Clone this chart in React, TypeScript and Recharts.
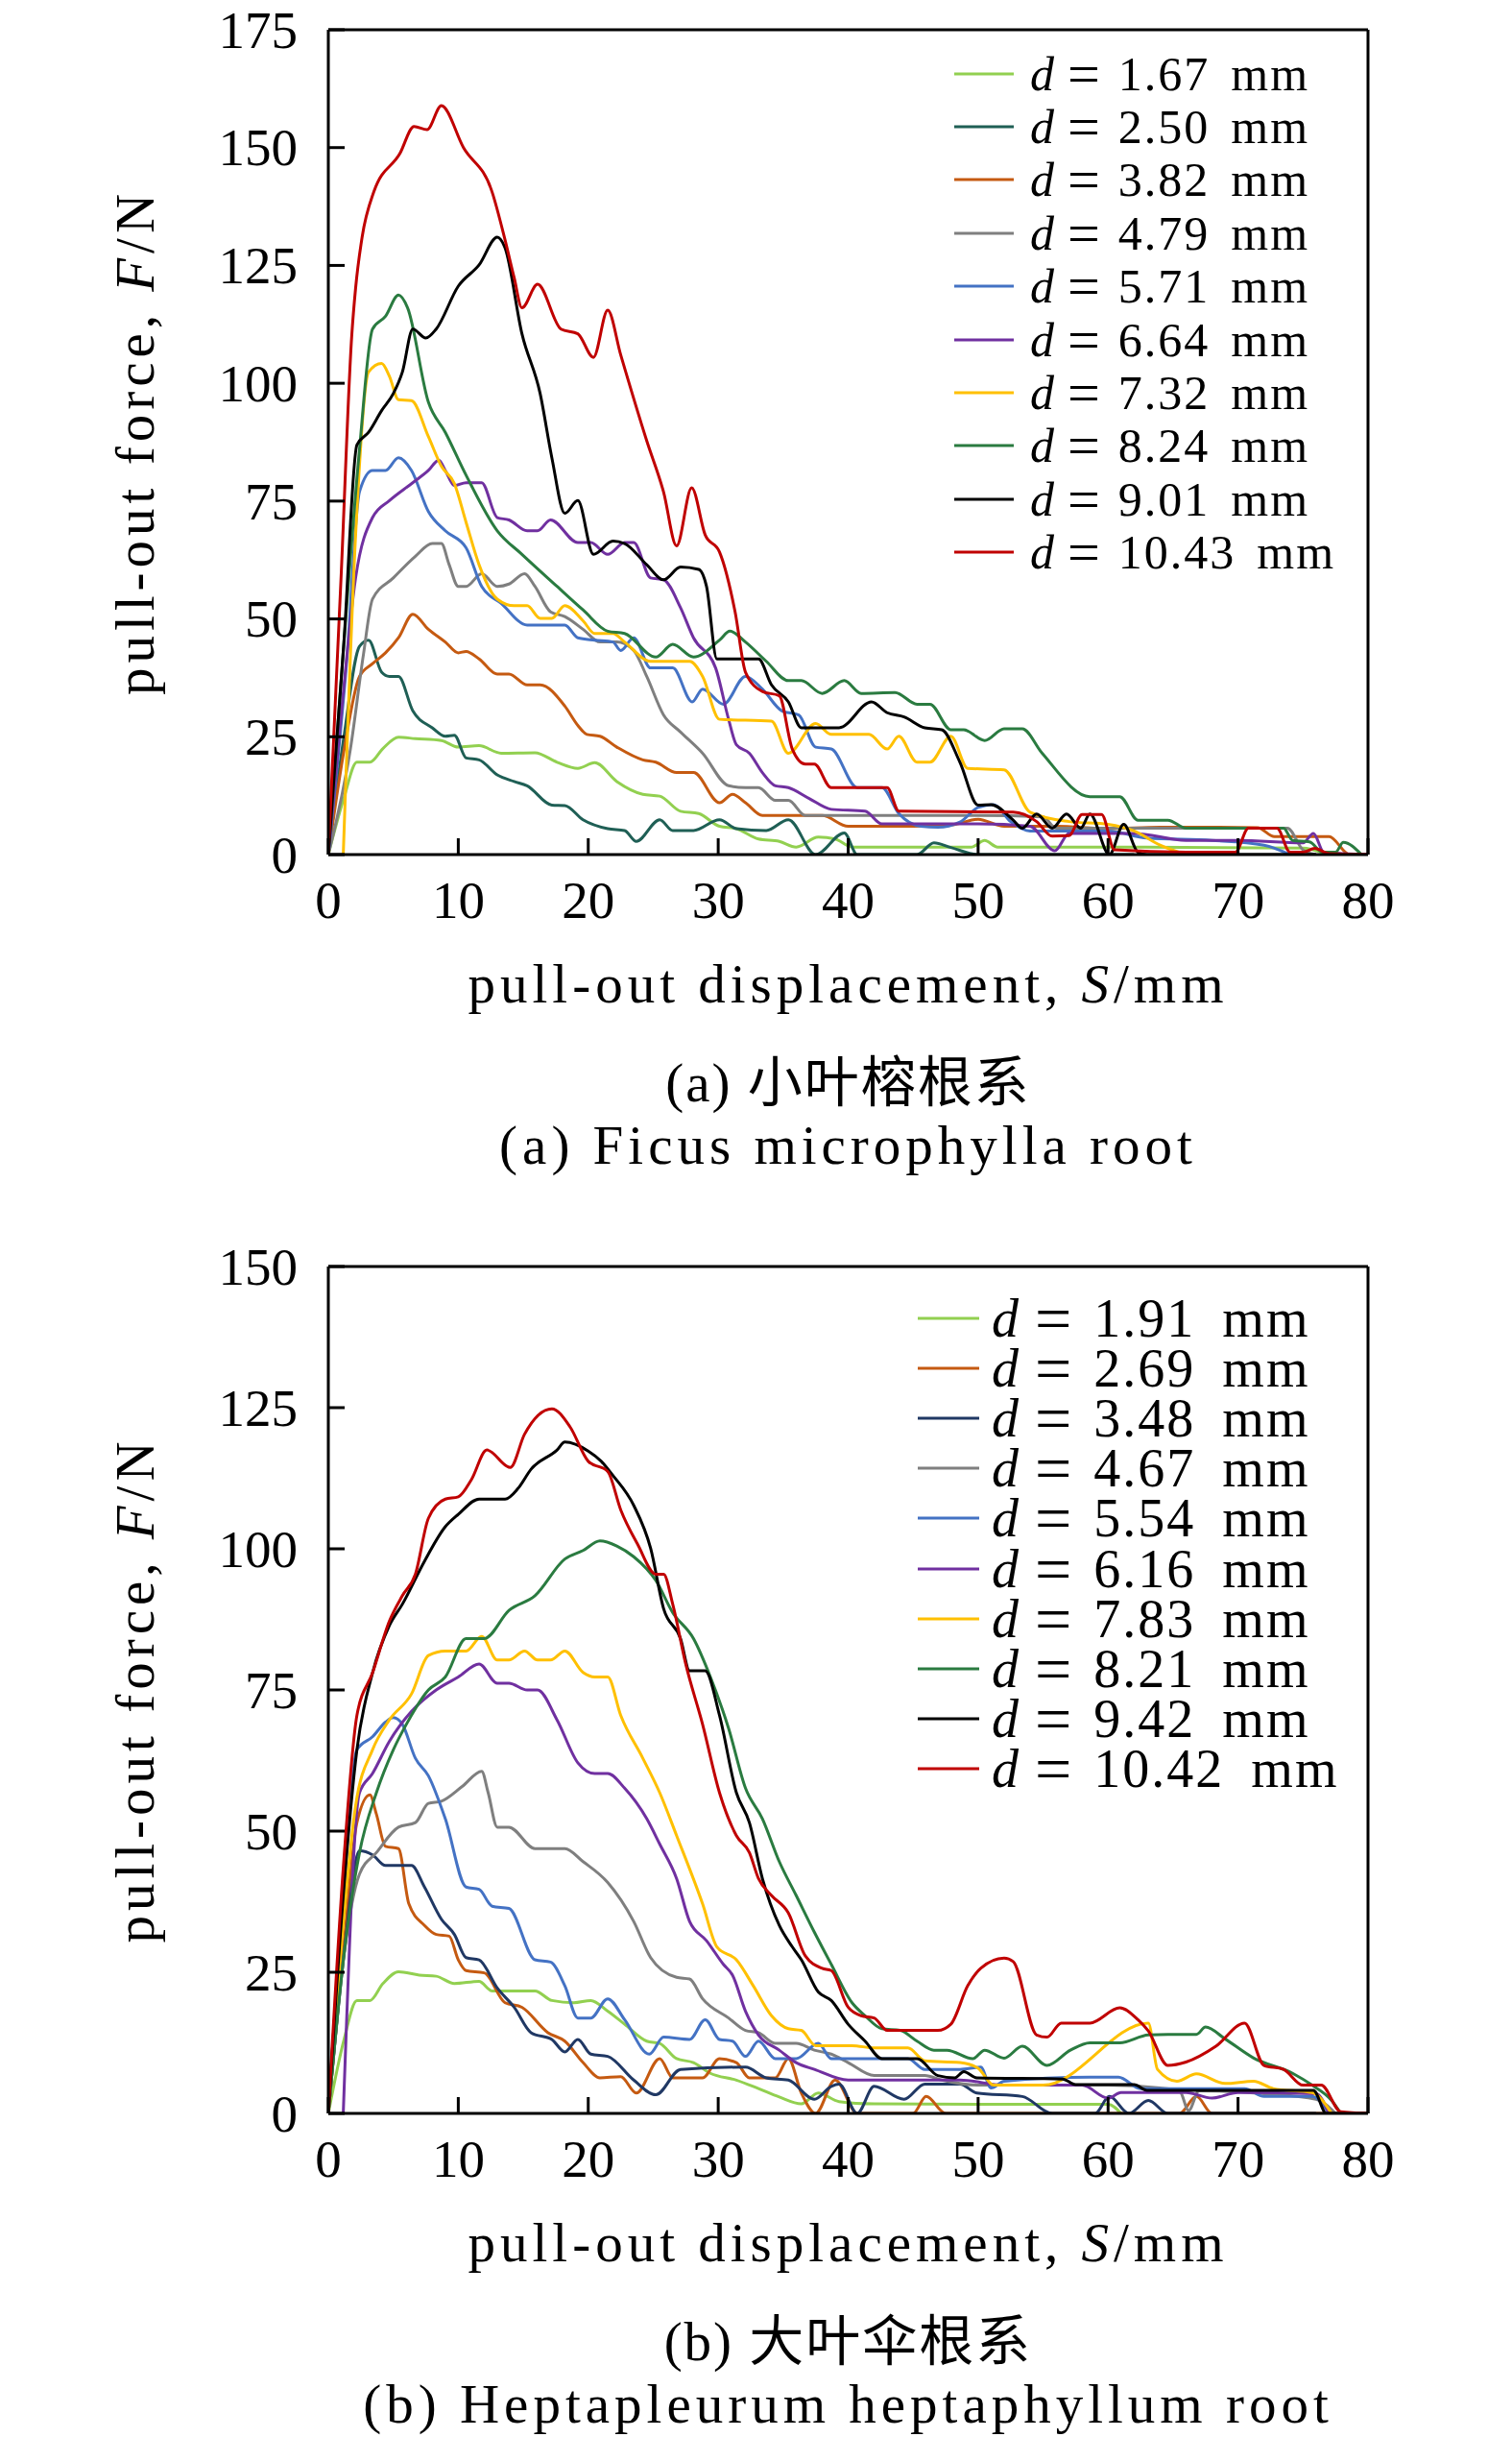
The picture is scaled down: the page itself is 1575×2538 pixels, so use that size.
import React from "react";
import { LineChart, Line, XAxis, YAxis, ReferenceLine, Legend } from "recharts";

type Pt = [number, number];

const FONT = "'Liberation Serif', 'Noto Sans CJK SC', serif";

// x ticks shared by both panels
const xTicks = [0, 10, 20, 30, 40, 50, 60, 70, 80];
const yTicksA = [0, 25, 50, 75, 100, 125, 150, 175];
const yTicksB = [0, 25, 50, 75, 100, 125, 150];

// ---------- (a) Ficus microphylla ----------
const namesA = ["1.67", "2.50", "3.82", "4.79", "5.71", "6.64", "7.32", "8.24", "9.01", "10.43"];
const colorsA = ["#92D050", "#1F5F55", "#C55A11", "#7F7F7F", "#4472C4", "#7030A0", "#FFC000", "#2A7B40", "#000000", "#C00000"];

const a167: Pt[] = [[0,0],[1.2,12],[2.2,19.6],[3.2,19.6],[4.2,22.5],[5.4,24.9],[6.7,24.6],[8.7,24.2],[10,22.8],[11.6,23.1],[13.3,21.5],[15.9,21.6],[17.6,19.6],[19.2,18.3],[20.5,19.5],[22.2,15.5],[24.2,12.8],[25.5,12.4],[27.1,9.2],[28.5,8.7],[30.1,6],[31.4,5.5],[33.1,3.3],[34.7,2.8],[36,1.6],[37.7,3.7],[39,3.3],[40.3,1.6],[49.5,1.6],[50.5,3],[51.5,1.6],[60,1.6],[75,1.4],[76.5,0.4]];
const a250: Pt[] = [[0,0],[1.2,25],[2.4,44.2],[3.1,45.5],[4.1,38.7],[4.7,37.8],[5.4,37.8],[6.5,30.5],[8,26.9],[9,25.1],[9.7,25.3],[10.6,20.5],[11.6,20.1],[13,16.9],[14.3,15.5],[15.3,14.6],[17.2,10.5],[18.2,10.4],[19.6,7.4],[21.5,5.5],[22.8,5.1],[23.7,2.8],[25.5,7.4],[26.5,5.1],[28.1,5.1],[30.1,7.4],[31.4,5.5],[33.7,5.1],[35.4,7.4],[37.5,0],[39.7,4.6],[40.7,0],[45.3,0],[46.6,2.5],[47.9,1.5],[50,0],[62,0]];
const a382: Pt[] = [[0,0],[1.2,22],[2.4,37.8],[3.4,40.5],[4.4,42.8],[5.4,46],[6.5,51],[7.7,47.8],[9,45.1],[10,42.8],[10.6,43.1],[11.6,41.5],[13,38.3],[13.9,38.3],[15.3,36],[16.3,36],[18.2,31.5],[19.2,27.4],[19.9,25.5],[20.9,25.1],[22.2,22.8],[24.2,20.1],[25.2,19.6],[26.8,17.4],[28.1,17.4],[30.1,11],[31.1,12.8],[32.1,11],[33.4,8.3],[35.4,8.3],[38,8.3],[40,6],[45,6],[48,6.3],[50,7.5],[52,6],[56,6],[60,5.5],[64,5.8],[68,5.8],[71.5,5.7],[72.8,3.8],[77,3.8],[78.6,0],[80,0]];
const a479: Pt[] = [[0,0],[1.7,22.4],[2.7,42.4],[3.4,54.2],[5,58.7],[6.7,63.3],[8,66],[8.7,66],[9.3,61.5],[10,56.9],[10.6,56.9],[11.8,59.6],[13,56.9],[13.9,57.4],[15.1,59.6],[15.9,56.9],[17.1,51.5],[18.2,50.5],[19.6,47.8],[20.9,45.1],[22.2,45.1],[23.5,43.3],[24.5,37.8],[25.8,29.6],[27.1,26],[28.8,21.5],[30.8,14.6],[32.1,14.2],[33.1,14.2],[34.4,11.5],[35.4,11.5],[36.7,8.3],[50,8.3],[55,8],[56,5.6],[73.8,5.6],[75,1],[76,0]];
const a571: Pt[] = [[0,0],[1.4,40.5],[2.4,77],[3.4,81.5],[4.4,81.5],[5.4,84.2],[6.4,81.5],[7.7,72.8],[9,68.7],[10.6,65.1],[11.8,56.9],[13.3,53.3],[15.3,48.7],[18.2,48.7],[19.2,46],[20.5,45.5],[21.9,45.1],[22.5,43.3],[23.5,46],[24.8,39.6],[26.5,39.6],[28,32.4],[28.8,35.1],[30.4,31.9],[32.1,37.8],[33.4,35.1],[34.9,30.5],[36.2,29.6],[37.5,22.8],[38.7,22.4],[40.7,14.2],[42.6,14.2],[43.9,8.7],[45.6,6],[46.9,5.8],[48.6,6.9],[50,10],[51.2,10.6],[52.5,7],[54,5],[60,5],[63,3.5],[68,3],[72,2],[74,0]];
const a664: Pt[] = [[0,0],[1,30],[2.1,58.7],[3.4,71.5],[4.7,75.1],[6.4,78.7],[7.7,81.5],[8.5,83.7],[9,81.5],[9.7,78.3],[10.6,78.9],[11.8,78.9],[13,71.5],[13.9,71],[15.3,68.7],[16.1,68.7],[17.1,71],[19.2,66.2],[20.2,66.2],[21.5,63.7],[22.8,66.2],[23.5,66.2],[24.8,58.7],[25.8,58.3],[27.1,52.4],[28.1,46],[29.8,39.6],[30.8,28.7],[31.4,23.3],[32.4,21.5],[33.4,17.4],[34.4,14.6],[35.4,14.2],[37,11.9],[38.7,9.6],[41.3,9.2],[42.6,6.5],[50,6.5],[54,6],[55.9,0.8],[57,4.5],[62,4.5],[66,3],[70,3],[75,2.5],[75.8,4.5],[76.6,0.5],[80,0]];
const a732: Pt[] = [[1.15,0],[2.1,67.8],[3.1,102.4],[4.1,104.2],[4.7,101.5],[5.4,96.5],[6.4,96.3],[7.7,88.7],[8.7,82.4],[9.7,78.7],[10.6,70.5],[11.6,61.5],[13,54.2],[14.3,52.8],[15.3,52.8],[16.3,50.1],[17.2,50.1],[18.2,52.8],[19.6,49.6],[20.5,46.9],[21.9,46.9],[22.8,45.1],[24.8,41],[27.8,41],[28.8,37.8],[30.1,28.7],[34.1,28.3],[35.4,21.5],[37.5,27.8],[38.7,25.5],[41.6,25.5],[43,22.4],[43.9,25.1],[45.3,19.6],[46.3,19.6],[47.9,25.1],[49.2,18.3],[52,18],[54,9],[57,7],[60,6.4],[62,5],[64,2],[66,0]];
const a824: Pt[] = [[0,0],[1.2,45],[2.4,86],[3.4,111.5],[4.4,114.2],[5.4,118.7],[6.1,116],[7.7,96],[9,89.6],[10.6,80.5],[13,68.7],[14.9,63.7],[17.6,56.9],[19.6,51.9],[21.5,47.4],[22.8,46.9],[25.2,41.9],[26.5,44.6],[28.1,41.9],[30.1,45.5],[30.9,47.4],[32.1,45.1],[33.7,41],[35.4,36.9],[36.4,36.9],[38,34.2],[39.7,36.9],[41,34.2],[43.6,34.4],[45.3,31.9],[46.3,31.9],[47.9,26.5],[48.9,26.5],[50.5,24.2],[52,26.7],[53.4,26.7],[54.9,21.6],[58.6,12.3],[60.9,12.3],[62.3,7.3],[64.6,7.3],[66,5.6],[73.5,5.6],[74.2,3],[75.5,2.7],[76.5,0.5],[77.5,0.5],[78.1,2.6],[79.5,0]];
const a901: Pt[] = [[0,0],[1.2,45],[2.2,86.9],[3.1,89.6],[4.1,94.2],[5,97.8],[5.7,102.4],[6.5,111.5],[7.5,109.6],[8.3,111.5],[10,120.6],[11.6,125.1],[13,131],[13.6,128.7],[14.9,110.5],[16.3,97.8],[17.2,84.2],[18.2,72.4],[19.2,75.1],[20.4,63.7],[21.9,66.5],[22.8,66],[24.5,61.5],[25.8,58.3],[27.1,61],[28.5,60.5],[29.1,56.9],[29.9,41.5],[33.1,41.5],[34.1,36],[35.4,32.4],[36.4,26.9],[39.3,26.9],[41.8,32.4],[43,30.1],[44.3,29.2],[45.9,26.9],[47.2,26.5],[48.6,19.6],[50,10.5],[51,10.6],[52.7,7.3],[53.4,5.6],[54.5,8.6],[55.7,5.6],[56.8,8.6],[57.9,5.6],[58.6,8.6],[60.1,0],[61.2,6.4],[62.3,0.5],[63,0],[76,0]];
const a1043: Pt[] = [[0,0],[1,60],[1.8,110],[2.1,120.2],[2.6,131],[3.5,140.6],[5.5,148.7],[6.6,154.5],[7.6,153.8],[8.7,158.9],[10.4,150],[12.6,140.6],[13.6,130.4],[14.3,122.4],[14.9,116],[16.1,121],[17.9,111.5],[19.2,110.5],[20.4,105.5],[21.5,115.5],[22.5,106],[24.5,87.8],[25.8,76.9],[26.8,65.5],[27.96,77.8],[29,67.8],[30.1,64.2],[31.3,51.5],[32.1,38.7],[33.4,34.6],[34.7,33.7],[35.7,22.4],[36.7,19.2],[37.4,19.2],[38.7,14.2],[43,14.2],[43.9,9.2],[52.7,9],[54.5,7],[55.7,3.9],[57,4],[58,8.5],[59.5,8.5],[60.5,1],[66,0.5],[69.8,0.5],[70.8,5.6],[73,5.6],[74,0.5],[75,0.5],[75.9,1.3],[77,0.2],[80,0]];
const seriesA = [a167, a250, a382, a479, a571, a664, a732, a824, a901, a1043];

// ---------- (b) Heptapleurum heptaphyllum ----------
const namesB = ["1.91", "2.69", "3.48", "4.67", "5.54", "6.16", "7.83", "8.21", "9.42", "10.42"];
const colorsB = ["#92D050", "#C55A11", "#203864", "#7F7F7F", "#4472C4", "#7030A0", "#FFC000", "#2A7B40", "#000000", "#C00000"];

const b191: Pt[] = [[0,0],[1.2,13],[2.2,20],[3.2,20],[4.2,23],[5.4,25.1],[7,24.5],[8.3,24.3],[9.7,23],[11.6,23.4],[12.6,21.7],[15.9,21.7],[17.2,20],[18.9,19.6],[20.2,20],[21.5,18.1],[22.8,15.8],[24.5,12.8],[25.5,12.4],[26.8,9.7],[28.1,9],[29.4,7.1],[31.4,5.9],[33.1,4.4],[34.7,2.9],[36.4,1.7],[37.7,3.6],[39.3,2.1],[42,1.7],[50,1.6],[60,1.6],[61,0]];
const b269: Pt[] = [[0,0],[1.2,30],[2.2,51.5],[3.2,56.4],[3.7,53],[4.4,47.3],[5.4,46.9],[6.2,37.1],[7.4,33.3],[8.3,31.7],[9.3,31.4],[10,27.2],[10.6,25.3],[12,24.9],[13.6,19.6],[14.9,18.8],[16.9,14.3],[18.2,12.8],[19.6,9],[20.9,6.3],[22.5,6.5],[23.7,3.6],[25.5,9.7],[26.5,6.3],[28.8,6.3],[30.1,9.7],[31.4,9],[32.4,6.3],[34.4,6.3],[35.4,9.7],[36.4,3.6],[37.5,0],[39,5.9],[40.7,0],[45,0],[46,3],[47.5,0],[65.5,0],[66.8,3],[68,0],[80,0]];
const b348: Pt[] = [[0,0],[1.2,28],[2.4,46.5],[3.4,45.8],[4.4,43.9],[6.4,43.9],[7.4,40.1],[8.7,34.4],[9.7,31.7],[10.6,27.6],[11.6,27.2],[13,22.2],[14.3,18.8],[15.6,14.3],[17.2,13.1],[18.2,10.9],[19.2,13.1],[20.2,10.5],[21.5,10.1],[23.5,5.9],[25.2,3.3],[27.1,7.8],[32.1,8.2],[33.7,6.3],[35.4,5.9],[37.4,2.5],[38.7,4.8],[39.3,5.2],[40.7,0],[42,4.8],[44.3,2.5],[45.9,5.2],[48.6,5.2],[49.9,3.6],[53.4,3],[55.7,0],[59,0],[60.1,3],[61.6,0],[63.1,2.3],[64.6,0],[76,0]];
const b467: Pt[] = [[0,0],[1.2,28],[2.4,42.4],[3.7,46.2],[5.4,50.7],[6.7,51.5],[7.7,54.9],[8.7,55.3],[10.3,57.9],[11.8,60.6],[12.3,56.8],[13,50.7],[13.9,50.7],[15.9,46.9],[18.2,46.9],[19.6,44.6],[21.5,40.9],[23.5,34],[24.8,27.6],[26.8,24.1],[27.8,23.8],[28.8,20.3],[30.8,16.9],[32.1,14.7],[33.1,14.3],[34.4,12.4],[36,12.4],[37.4,11.2],[38.7,10.5],[40,9],[42,6.7],[45.9,6.7],[47.2,5.9],[50,5],[60,5],[64,4.5],[65.5,4],[66.2,0.5],[67,4],[72,3.5],[76,2.5],[77.5,0]];
const b554: Pt[] = [[0,0],[1.2,40],[2.2,64.4],[3.4,66.7],[4.4,69.3],[5,70.1],[5.7,68.9],[6.7,62.9],[7.7,59.8],[9,52.2],[10.6,40.1],[11.6,39.7],[12.6,36.7],[13.9,36.3],[15.9,27.2],[17.1,26.8],[18.2,22.6],[19.2,16.9],[20.2,16.9],[21.5,20.3],[22.8,16.6],[24.7,10.5],[25.8,13.5],[27.8,13.1],[29,16.6],[30.1,13.1],[31.1,12.8],[32.1,10.1],[33.1,12.8],[34.4,9.7],[36,9.7],[37.7,12.4],[38.7,9.7],[44.6,9.7],[45.9,7.8],[48.6,7.8],[50.2,8.2],[51,4.5],[52,5.7],[58.6,6.4],[60.8,6.4],[62.5,4.4],[70.5,4.4],[72,3],[75.7,3],[77,0]];
const b616: Pt[] = [[1.15,0],[2.4,56.8],[3.4,60.2],[4.7,65.9],[6.4,71.2],[8.3,75],[10,77.3],[11.6,79.6],[13,76.2],[13.9,76.2],[15.3,75],[16.1,75],[17.6,69.7],[19.2,62.1],[20.5,60.2],[21.5,60.2],[22.8,57.6],[24.5,52.2],[25.5,47.7],[26.8,41.6],[27.8,34],[29.1,30.6],[30.4,26.4],[31.1,24.5],[32.1,18.1],[33.1,13.9],[34.7,11.2],[36,9],[37.4,7.8],[40,5.9],[48.6,5.9],[52,5],[58,5],[60,2.7],[61,3.7],[66,3.7],[68,2.7],[70,3.7],[76,3.5],[77,0]];
const b783: Pt[] = [[0,0],[1.2,35],[2.1,54.5],[3.4,64.4],[4.7,69.7],[6.4,74.3],[7.7,81.1],[9,81.9],[10.6,81.9],[11.8,84.5],[13,80.3],[13.9,80.3],[15.1,81.9],[16.1,80.3],[17.1,80.3],[18.2,81.9],[19.6,78.1],[20.5,77.3],[21.5,77.3],[22.5,70.5],[24.2,62.9],[25.5,56.8],[26.8,49.2],[28.8,37.1],[29.9,29.5],[31.4,27.2],[32.7,22.6],[34.1,17.3],[35.4,15],[36.4,14.7],[37.5,12],[40.3,12],[42,11.6],[44.6,11.6],[45.9,9.3],[48.6,9],[50,8],[51.2,5],[55,5],[63.1,16],[63.8,7.8],[65.3,5.7],[66.8,7],[69,5.3],[71.2,5.7],[72.7,4.4],[75.7,3.7],[77.2,0]];
const b821: Pt[] = [[0,0],[1.2,28],[2.4,46.2],[3.7,56.8],[5,64.4],[6,68.9],[7.7,75],[9,77.3],[10.6,84.1],[12,84.1],[13.9,89.1],[15.9,91.7],[18.2,98.2],[19.6,99.7],[20.9,101.4],[22.2,100.5],[23.5,98.6],[25.2,94.4],[26.5,88.7],[28.1,84.1],[29.4,77.3],[30.8,68.2],[32.1,57.6],[33.4,52.2],[34.7,44.6],[36,38.6],[37.4,32.1],[38.7,26.4],[40.3,19.6],[41.3,17.3],[42.6,15],[44,14.7],[45.3,12.8],[46.6,11.2],[47.6,11.2],[49.6,9.7],[50.5,11.2],[52,9.8],[53.4,11.9],[55.3,8.5],[57.1,11.2],[58.6,12.5],[60.9,12.5],[63.1,13.9],[64.6,14],[66.8,14],[67.5,15.3],[69,13.2],[71.2,9.8],[74.2,7.1],[75.7,5],[77.2,2.3],[77.9,0]];
const b942: Pt[] = [[0,0],[1.2,40],[2.2,64.4],[3.4,78],[4.7,86.4],[5.7,90.2],[7.4,97.8],[9,103.9],[10,106.1],[11.6,108.8],[13.6,108.8],[14.6,110.7],[15.6,114.1],[17.6,117.5],[18.2,118.9],[20,117.3],[21,115.5],[21.9,113],[23.5,107.7],[24.8,100.1],[25.8,89.4],[27.1,84.1],[27.8,78.4],[29,78.4],[30.1,70.5],[31.4,56.8],[32.4,51.5],[33.4,41.6],[34.7,33.3],[35.7,29.5],[36.4,27.2],[37.7,21.5],[38.7,20],[40,15.8],[41.3,12.8],[42.6,9.7],[45.3,9.7],[46.9,6.7],[48.2,6.3],[48.9,7.4],[49.9,6.3],[56.5,6.1],[57.5,5.1],[62,5.1],[63,4.1],[75.8,4.1],[76.8,0],[80,0]];
const b1042: Pt[] = [[0,0],[1.2,45],[2.2,70.5],[3.4,78],[4.7,87.2],[5.7,91.7],[6.7,95.5],[7.7,105.4],[9,108.8],[10,109.2],[11,112.2],[12.2,117.5],[14,114.4],[15.1,120.3],[17.2,124.8],[18.6,121.6],[20,115.5],[21.5,113.7],[22.5,106.9],[23.8,100.8],[25.2,95.5],[25.8,95.5],[26.5,90.2],[27.5,79.6],[28.8,68.9],[30.1,56.8],[31.4,49.2],[32.4,46.2],[33.1,41.6],[34.1,38.6],[35.4,35.5],[36.7,27.9],[38,25.7],[38.7,25.3],[40,18.8],[41,17.3],[42,16.9],[43,14.7],[46.9,14.7],[47.9,15.8],[49.2,22.6],[50.2,25.7],[52,27.5],[52.7,26.9],[54.5,13.9],[55.3,13.5],[56.4,16],[58.6,16],[60.9,18.7],[62.3,16.6],[63.1,14.6],[64.6,8.5],[66,9.1],[68.3,11.9],[70.5,16],[72,8.5],[73.5,7.8],[75,5],[76.4,5],[77.9,0.3],[80,0]];
const seriesB = [b191, b269, b348, b467, b554, b616, b783, b821, b942, b1042];

const toRows = (pts: Pt[]) => pts.map(([s, f]) => ({ s, f }));

const PLOT_L = 342;
const PLOT_R = 1425;
const TICK_LEN = 17;
const Y_GAP = 32;
const X_GAP = 66;

const YTick = (props: any) => {
  const { x, y, payload } = props;
  const axisX = x + Y_GAP;
  return (
    <g>
      <line x1={axisX} x2={axisX + TICK_LEN} y1={y} y2={y} stroke="#000" strokeWidth={3} />
      <text x={x} y={y} dy="0.34em" textAnchor="end" fontFamily={FONT} fontSize={55} fill="#000">
        {payload.value}
      </text>
    </g>
  );
};

const XTick = (props: any) => {
  const { x, y, payload } = props;
  const axisY = y - X_GAP;
  return (
    <g>
      <line x1={x} x2={x} y1={axisY} y2={axisY - TICK_LEN} stroke="#000" strokeWidth={3} />
      <text x={x} y={y} textAnchor="middle" fontFamily={FONT} fontSize={55} fill="#000">
        {payload.value}
      </text>
    </g>
  );
};

interface LegendCfg {
  left: number;
  top: number;
  rowH: number;
  lineW: number;
  gap: number;
  fontSize: number;
  eqSize: number;
  eqL: number;
  eqR: number;
  mmGap: number;
}

interface PanelProps {
  top: number;
  height: number;
  plotTop: number;
  plotBottom: number;
  yMax: number;
  yTicks: number[];
  series: Pt[][];
  names: string[];
  colors: string[];
  legend: LegendCfg;
  cn: string;
  en: string;
}

function Panel({ top, height, plotTop, plotBottom, yMax, yTicks, series, names, colors, legend, cn, en }: PanelProps) {
  const lg = legend;
  const renderLegend = () => (
    <div style={{ fontFamily: FONT, fontSize: lg.fontSize, color: "#000", lineHeight: 1 }}>
      {names.map((n, i) => (
        <div key={n} style={{ display: "flex", alignItems: "center", height: lg.rowH, whiteSpace: "nowrap" }}>
          <svg width={lg.lineW} height={6} style={{ flex: "none" }}>
            <line x1={0} x2={lg.lineW} y1={3} y2={3} stroke={colors[i]} strokeWidth={3} />
          </svg>
          <span style={{ marginLeft: lg.gap, fontStyle: "italic" }}>d</span>
          <span style={{ marginLeft: lg.eqL, marginRight: lg.eqR, fontSize: lg.eqSize }}>=</span>
          <span style={{ letterSpacing: 2 }}>{n}</span>
          <span style={{ marginLeft: lg.mmGap, letterSpacing: 2 }}>mm</span>
        </div>
      ))}
    </div>
  );

  const cy = (plotTop + plotBottom) / 2 - top;
  const axisY = plotBottom - top;
  const textStyle = { fontFamily: FONT, fontSize: 57, letterSpacing: 5, fill: "#000" } as const;
  const midX = (PLOT_L + PLOT_R) / 2;

  return (
    <div style={{ position: "absolute", left: 0, top, width: 1575, height }}>
      <LineChart
        width={1575}
        height={height}
        margin={{ top: plotTop - top, bottom: top + height - plotBottom - 1, left: PLOT_L - 1, right: 1575 - PLOT_R }}
      >
        <XAxis
          type="number"
          dataKey="s"
          domain={[0, 80]}
          ticks={xTicks}
          interval={0}
          height={1}
          tickSize={0}
          tickMargin={X_GAP}
          tick={<XTick />}
          tickLine={false}
          axisLine={{ stroke: "#000", strokeWidth: 3 }}
          allowDataOverflow
        />
        <YAxis
          type="number"
          domain={[0, yMax]}
          ticks={yTicks}
          interval={0}
          width={1}
          tickSize={0}
          tickMargin={Y_GAP}
          tick={<YTick />}
          tickLine={false}
          axisLine={{ stroke: "#000", strokeWidth: 3 }}
          allowDataOverflow
        />
        {series.map((pts, i) => (
          <Line
            key={names[i]}
            data={toRows(pts)}
            dataKey="f"
            name={names[i]}
            type="monotone"
            stroke={colors[i]}
            strokeWidth={3}
            dot={false}
            activeDot={false}
            isAnimationActive={false}
          />
        ))}
        <ReferenceLine y={yMax} stroke="#000" strokeWidth={3} />
        <ReferenceLine x={80} stroke="#000" strokeWidth={3} />
        <Legend
          layout="vertical"
          align="center"
          verticalAlign="middle"
          content={renderLegend}
          wrapperStyle={{ position: "absolute", left: lg.left, top: lg.top, width: 560, height: lg.rowH * 10 }}
        />
      </LineChart>
      <svg width={1575} height={height} style={{ position: "absolute", left: 0, top: 0, pointerEvents: "none" }}>
        <text transform={`translate(160, ${cy}) rotate(-90)`} textAnchor="middle" {...textStyle}>
          pull-out force, <tspan fontStyle="italic">F</tspan>/N
        </text>
        <text x={midX} y={axisY + 154} textAnchor="middle" {...textStyle}>
          pull-out displacement, <tspan fontStyle="italic">S</tspan>/mm
        </text>
        <text x={midX} y={axisY + 257} textAnchor="middle" {...textStyle} letterSpacing={2}>
          {cn}
        </text>
        <text x={midX} y={axisY + 322} textAnchor="middle" {...textStyle}>
          {en}
        </text>
      </svg>
    </div>
  );
}

export default function App() {
  return (
    <div style={{ position: "absolute", left: 0, top: 0, width: 1575, height: 2538, background: "#fff" }}>
      <Panel
        top={0}
        height={1280}
        plotTop={31}
        plotBottom={890}
        yMax={175}
        yTicks={yTicksA}
        series={seriesA}
        names={namesA}
        colors={colorsA}
        legend={{ left: 994, top: 49, rowH: 55.4, lineW: 62, gap: 17, fontSize: 50, eqSize: 60, eqL: 14, eqR: 19, mmGap: 22 }}
        cn="(a) 小叶榕根系"
        en="(a) Ficus microphylla root"
      />
      <Panel
        top={1288}
        height={1250}
        plotTop={1319}
        plotBottom={2201}
        yMax={150}
        yTicks={yTicksB}
        series={seriesB}
        names={namesB}
        colors={colorsB}
        legend={{ left: 956, top: 59, rowH: 52.1, lineW: 64, gap: 13, fontSize: 56, eqSize: 68, eqL: 17, eqR: 23, mmGap: 28 }}
        cn="(b) 大叶伞根系"
        en="(b) Heptapleurum heptaphyllum root"
      />
    </div>
  );
}
